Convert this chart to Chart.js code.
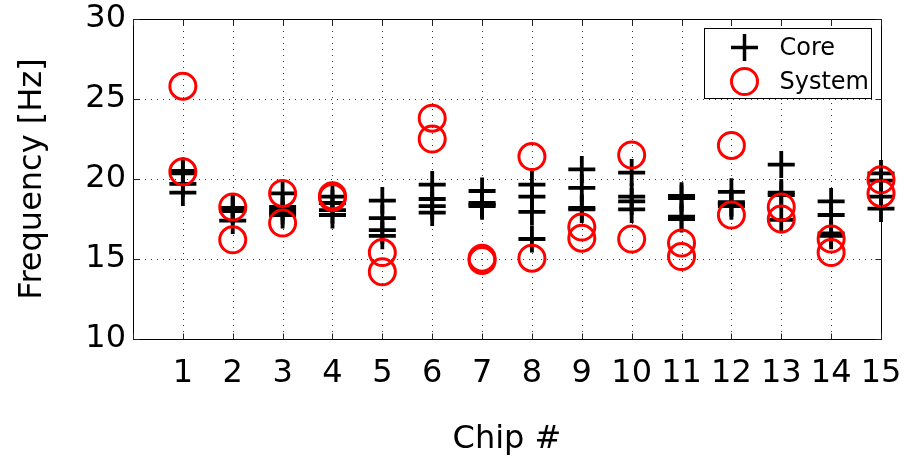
<!DOCTYPE html>
<html><head><meta charset="utf-8">
<script src="https://cdn.jsdelivr.net/npm/chart.js@4/dist/chart.umd.min.js"></script>
<style>html,body{margin:0;padding:0;background:#fff;}#wrap{width:905px;height:466px;}</style>
</head><body><div id="wrap"><canvas id="c" width="905" height="466"></canvas></div>
<script>
// ---- data ----
const chips = [1,2,3,4,5,6,7,8,9,10,11,12,13,14,15];
const xTickLabels = ['1','2','3','4','5','6','7','8','9','10','11','12','13','14','15'];
const yTickValues = [10,15,20,25,30];
// Core frequency [Hz], four measurements per chip
const coreRun1 = [20.5, 18.2, 19.1, 18.9, 18.65, 19.65, 19.25, 19.65, 20.6, 20.4, 18.95, 19.2, 20.9, 18.6, 20.35];
const coreRun2 = [20.35, 18.1, 18.25, 18.5, 17.55, 18.75, 18.5, 18.9, 19.45, 18.9, 18.8, 18.55, 19.15, 17.75, 19.9];
const coreRun3 = [19.7, 18.0, 18.0, 18.05, 16.8, 18.3, 18.4, 17.95, 18.2, 18.6, 17.65, 18.45, 19.0, 16.6, 18.9];
const coreRun4 = [19.15, 17.4, 17.75, 17.75, 16.45, 17.9, 18.3, 16.25, 18.1, 18.1, 17.5, 18.3, 17.45, 16.45, 18.15];
// System frequency [Hz], two measurements per chip
const systemRun1 = [25.8, 18.25, 19.1, 18.95, 15.4, 23.8, 15.05, 21.4, 17.0, 21.5, 16.0, 22.1, 18.25, 16.25, 19.95];
const systemRun2 = [20.45, 16.2, 17.25, 18.85, 14.2, 22.5, 14.9, 15.05, 16.3, 16.25, 15.15, 17.75, 17.5, 15.4, 19.1];
const seriesNames = ['Core', 'System'];

function toPoints(runs){
  const pts = [];
  runs.forEach(run => run.forEach((v,i) => pts.push({x: chips[i], y: v})));
  return pts;
}

const FONT = "'DejaVu Sans', sans-serif";

const matlabFrame = {
  id: 'matlabFrame',
  beforeDatasetsDraw(chart){
    const {ctx, chartArea:a, scales:{x, y}} = chart;
    ctx.save();
    ctx.strokeStyle = '#333';
    ctx.lineWidth = 1;
    ctx.setLineDash([1, 5]);
    chips.forEach(c => {
      if (c >= x.max) return;
      const px = Math.round(x.getPixelForValue(c)) + 0.5;
      ctx.beginPath(); ctx.moveTo(px, a.top); ctx.lineTo(px, a.bottom); ctx.stroke();
    });
    yTickValues.forEach(v => {
      if (v <= y.min || v >= y.max) return;
      const py = Math.round(y.getPixelForValue(v)) + 0.5;
      ctx.beginPath(); ctx.moveTo(a.left, py); ctx.lineTo(a.right, py); ctx.stroke();
    });
    ctx.restore();
  },
  afterDatasetsDraw(chart){
    const {ctx, chartArea:a, scales:{x, y}} = chart;
    ctx.save();
    ctx.setLineDash([]);
    ctx.strokeStyle = '#000';
    ctx.lineWidth = 1;
    const L = Math.round(a.left)+0.5, R = Math.round(a.right)+0.5, T = Math.round(a.top)+0.5, B = Math.round(a.bottom)+0.5;
    ctx.strokeRect(L, T, R-L, B-T);
    // inward ticks
    const tl = 6;
    ctx.strokeStyle = '#222';
    for (let c = x.min; c <= x.max; c++) {
      const px = Math.round(x.getPixelForValue(c))+0.5;
      ctx.beginPath(); ctx.moveTo(px, B); ctx.lineTo(px, B-tl); ctx.moveTo(px, T); ctx.lineTo(px, T+tl); ctx.stroke();
    }
    yTickValues.forEach(v => {
      const py = Math.round(y.getPixelForValue(v))+0.5;
      ctx.beginPath(); ctx.moveTo(L, py); ctx.lineTo(L+tl, py); ctx.moveTo(R, py); ctx.lineTo(R-tl, py); ctx.stroke();
    });
    // legend
    const lw = 167, lh = 70;
    const lx = Math.round(a.right) - 10 - lw + 0.5, ly = Math.round(a.top) + 9 + 0.5;
    ctx.fillStyle = '#fff';
    ctx.fillRect(lx, ly, lw, lh);
    ctx.strokeStyle = '#000';
    ctx.lineWidth = 1;
    ctx.strokeRect(lx, ly, lw, lh);
    const mx = lx + 40, r1 = ly + 19, r2 = ly + 53;
    ctx.lineWidth = 3.5;
    ctx.beginPath(); ctx.moveTo(mx-13.5, r1); ctx.lineTo(mx+13.5, r1); ctx.moveTo(mx, r1-13.5); ctx.lineTo(mx, r1+13.5); ctx.stroke();
    ctx.strokeStyle = '#ff0000';
    ctx.lineWidth = 3;
    ctx.beginPath(); ctx.arc(mx, r2, 13, 0, Math.PI*2); ctx.stroke();
    ctx.fillStyle = '#000';
    ctx.font = "24px " + FONT;
    ctx.textBaseline = 'middle';
    ctx.textAlign = 'left';
    ctx.fillText(seriesNames[0], lx + 75, r1 + 1);
    ctx.fillText(seriesNames[1], lx + 75, r2 + 1);
    ctx.restore();
  }
};

new Chart(document.getElementById('c'), {
  type: 'scatter',
  data: {
    datasets: [
      { label: seriesNames[0], data: toPoints([coreRun1, coreRun2, coreRun3, coreRun4]),
        pointStyle: 'cross', radius: 13.5, hoverRadius: 13.5, borderWidth: 3.8, borderColor: '#000', backgroundColor: '#000',
        showLine: false, clip: false, order: 2 },
      { label: seriesNames[1], data: toPoints([systemRun1, systemRun2]),
        pointStyle: 'circle', radius: 13, hoverRadius: 13, borderWidth: 3, borderColor: '#ff0000', backgroundColor: 'rgba(0,0,0,0)',
        showLine: false, clip: false, order: 1 }
    ]
  },
  options: {
    responsive: false,
    animation: false,
    devicePixelRatio: 1,
    layout: { padding: { top: 19, right: 24, left: 0, bottom: 0 } },
    plugins: { legend: { display: false }, tooltip: { enabled: false } },
    scales: {
      x: {
        type: 'linear', min: 0, max: 15,
        grid: { display: false, drawTicks: false, tickLength: 0 }, border: { display: false },
        ticks: {
          stepSize: 1, autoSkip: false, maxRotation: 0, minRotation: 0, padding: 15,
          color: '#000', font: { family: FONT, size: 32 },
          callback: v => (v >= 1 && v <= 15) ? xTickLabels[v-1] : ''
        },
        title: { display: true, text: 'Chip #', color: '#000', font: { family: FONT, size: 32 }, padding: { top: 0, bottom: 7 } },
        afterFit: s => { s.height = 127; s.paddingLeft = 0; s.paddingRight = 0; }
      },
      y: {
        min: 10, max: 30,
        grid: { display: false, drawTicks: false, tickLength: 0 }, border: { display: false },
        ticks: { stepSize: 5, padding: 7, color: '#000', font: { family: FONT, size: 32 } },
        title: { display: true, text: 'Frequency [Hz]', color: '#000', font: { family: FONT, size: 32 }, padding: { top: 13, bottom: 0 } },
        afterFit: s => { s.width = 133; s.paddingTop = 0; s.paddingBottom = 0; }
      }
    }
  },
  plugins: [matlabFrame]
});
</script>
</body></html>
